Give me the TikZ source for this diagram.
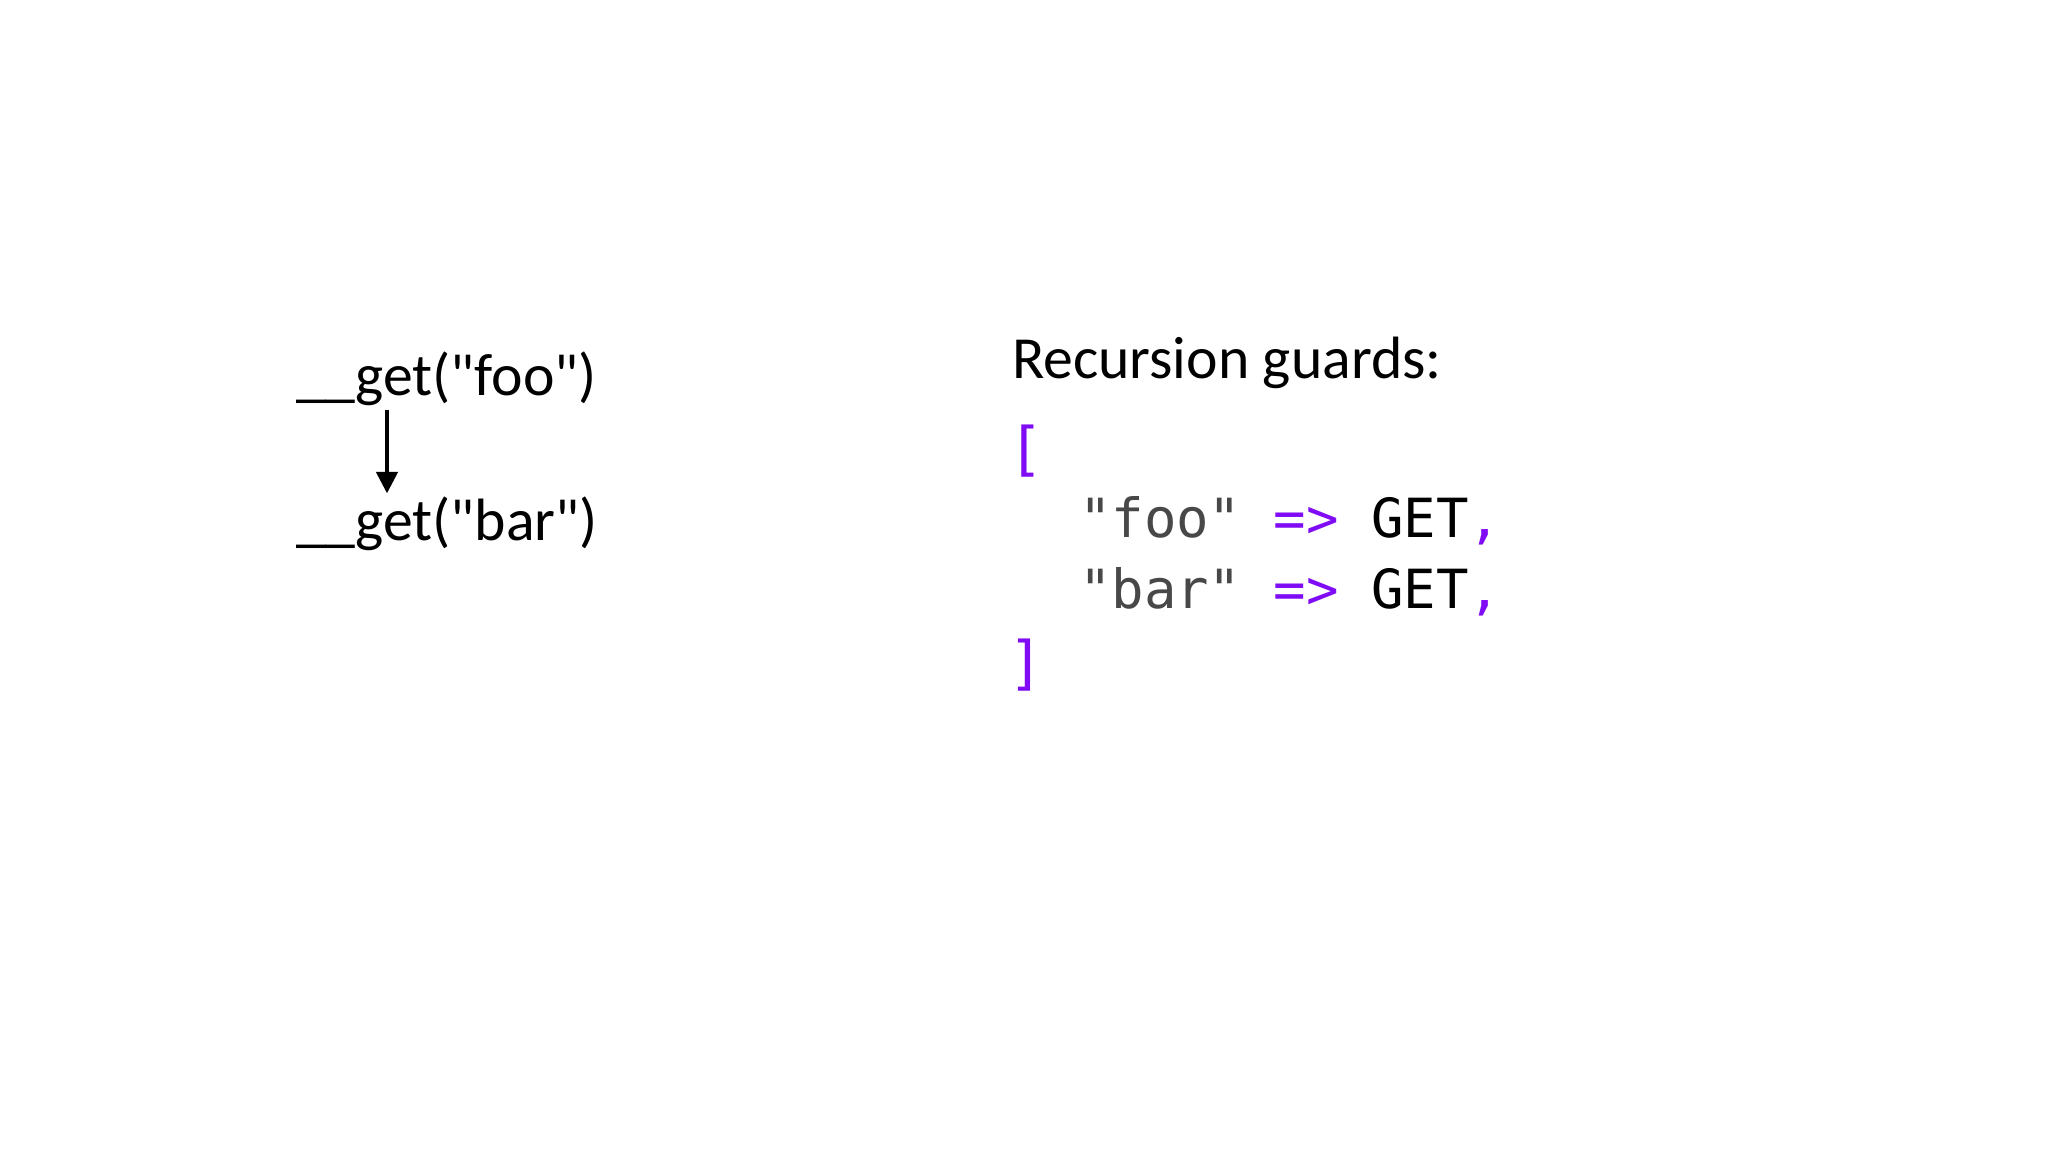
\documentclass[tikz,border=0pt]{standalone}
\usepackage{fontspec}
\setmainfont{Carlito}[Ligatures=TeXOff]
\setmonofont{DejaVu Sans Mono}
\usetikzlibrary{arrows.meta}
\definecolor{kwpurple}{RGB}{128,12,245}
\definecolor{strgray}{RGB}{72,72,72}
\tikzset{
  slidetext/.style={anchor=base west, inner sep=0pt, outer sep=0pt, font=\fontsize{28}{34}\selectfont, text=black},
  codeline/.style={anchor=base west, inner sep=0pt, outer sep=0pt, font=\ttfamily\fontsize{25.3}{30}\selectfont},
  bracket/.style={anchor=base west, inner sep=0pt, outer sep=0pt, font=\ttfamily\fontsize{27.5}{30}\selectfont, text=kwpurple},
  callarrow/.style={line width=1.6pt, -{Triangle[length=10pt,width=10pt]}}
}
\begin{document}
\begin{tikzpicture}[x=0.46875pt, y=-0.46875pt]
\useasboundingbox[fill=white] (0,0) rectangle (2048,1152);
% left: call chain
\node[slidetext] (foo) at (296,395) {\_\_get("foo")};
\node[slidetext] (bar) at (296,540) {\_\_get("bar")};
\draw[callarrow] ([shift={(91,5)}]foo.south west) -- ([shift={(91,-3)}]bar.north west);
% right: recursion guards
\node[slidetext] (title) at (1012,378) {Recursion guards:};
\node[bracket] (open) at (1008,469) {[};
\node[codeline] (line1) at (1079,537) {\textcolor{strgray}{"foo"} \textcolor{kwpurple}{=>} GET\textcolor{kwpurple}{,}};
\node[codeline] (line2) at (1079,608) {\textcolor{strgray}{"bar"} \textcolor{kwpurple}{=>} GET\textcolor{kwpurple}{,}};
\node[bracket] (close) at (1008,683) {]};
\end{tikzpicture}
\end{document}
